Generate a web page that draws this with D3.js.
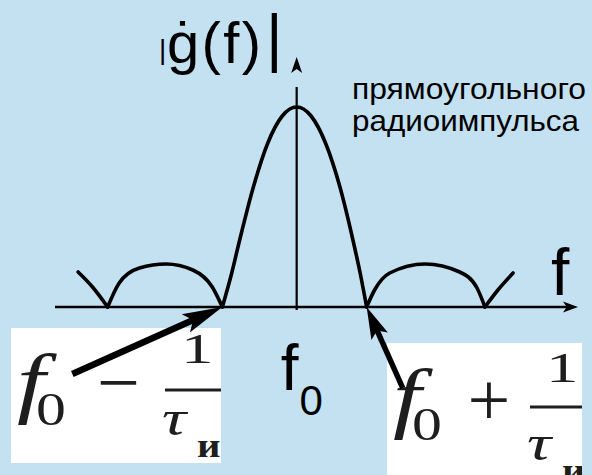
<!DOCTYPE html>
<html>
<head>
<meta charset="utf-8">
<script src="https://cdn.jsdelivr.net/npm/d3@7"></script>
<style>
  body { margin: 0; background: #c3e1f1; }
  svg { display: block; }
</style>
</head>
<body>
<div id="container"></div>
<script>
/* CONSTANTS AND GLOBALS */
const width = 592
const height = 475

// f measured from f0, in units of 1/tau ; amplitude relative to the peak
const leftTail  = [[-3.03, 0.175], [-2.83, 0.1], [-2.62, 0]]
const leftLobe  = [[-2.62, 0], [-2.46, 0.12], [-2.18, 0.195], [-1.81, 0.215], [-1.44, 0.185], [-1.17, 0.1], [-1.03, 0]]
const mainLobe  = [[-1.03, 0], [-0.9, 0.17], [-0.79, 0.335], [-0.6, 0.6], [-0.4, 0.82], [-0.2, 0.955], [0, 1],
                   [0.2, 0.955], [0.4, 0.82], [0.6, 0.6], [0.78, 0.335], [0.88, 0.17], [0.97, 0]]
const rightLobe = [[0.97, 0], [1.08, 0.085], [1.29, 0.17], [1.78, 0.215], [2.26, 0.175], [2.5, 0.095], [2.61, 0]]
const rightTail = [[2.61, 0], [2.79, 0.085], [3.0, 0.17]]

const zeros = [-1.03, 0.97]            // f0 - 1/tau , f0 + 1/tau
const axisLabelY = "ġ(f)"
const axisLabelX = "f"
const captionLines = ["прямоугольного", "радиоимпульса"]

// CREATE SVG ELEMENT
const svg = d3.select("#container")
  .append("svg")
    .attr("width", width)
    .attr("height", height)

svg.append("rect").attr("width", width).attr("height", height).attr("fill", "#c3e1f1")

// SCALES
const xScale = d3.scaleLinear().domain([-3.35, 3.9]).range([55, 578])
const yScale = d3.scaleLinear().domain([0, 1]).range([307, 107])

// AXES (plain arrows, no ticks)
svg.append("line")
  .attr("x1", xScale(-3.35)).attr("x2", xScale(3.75))
  .attr("y1", yScale(0)).attr("y2", yScale(0))
  .attr("stroke", "#000").attr("stroke-width", 2.5)

svg.append("line")
  .attr("x1", xScale(0)).attr("x2", xScale(0))
  .attr("y1", yScale(-0.015)).attr("y2", yScale(1.1))
  .attr("stroke", "#000").attr("stroke-width", 2.2)

function arrowHead(tip, back, len, half, notch) {
  const dx = tip[0] - back[0], dy = tip[1] - back[1]
  const d = Math.hypot(dx, dy), ux = dx / d, uy = dy / d
  const bx = tip[0] - ux * len, by = tip[1] - uy * len
  const nx = tip[0] - ux * len * notch, ny = tip[1] - uy * len * notch
  return [tip, [bx - uy * half, by + ux * half], [nx, ny], [bx + uy * half, by - ux * half]]
}

const xTip = [xScale(3.9), yScale(0)]
svg.append("path")
  .attr("d", d3.line()(arrowHead(xTip, [0, yScale(0)], 15, 5.5, 0.75)) + "Z")
  .attr("fill", "#000")

const yTip = [xScale(0), yScale(1.25)]
svg.append("path")
  .attr("d", d3.line()(arrowHead(yTip, [xScale(0), 400], 16, 5.5, 0.75)) + "Z")
  .attr("fill", "#000")

// SPECTRUM CURVE
const line = d3.line()
  .x(d => xScale(d[0]))
  .y(d => yScale(d[1]))
  .curve(d3.curveMonotoneX)

svg.selectAll(".lobe")
  .data([leftTail, leftLobe, mainLobe, rightLobe, rightTail])
  .join("path")
    .attr("class", "lobe")
    .attr("d", line)
    .attr("fill", "none")
    .attr("stroke", "#000")
    .attr("stroke-width", 3.6)
    .attr("stroke-linecap", "round")

// LABELS
svg.append("text")
  .attr("x", 159).attr("y", 59)
  .attr("font-family", "Liberation Sans, Arial").attr("font-size", 28)
  .text("|")
svg.append("text")
  .attr("x", 167).attr("y", 63)
  .attr("font-family", "Liberation Sans, Arial").attr("font-size", 58)
  .attr("textLength", 94).attr("lengthAdjust", "spacing")
  .text(axisLabelY)
svg.append("text")
  .attr("x", 266).attr("y", 60)
  .attr("font-family", "Liberation Sans, Arial").attr("font-size", 64)
  .text("|")

svg.append("text")
  .attr("x", 551).attr("y", 295)
  .attr("font-family", "Liberation Sans, Arial").attr("font-size", 66)
  .text(axisLabelX)

svg.selectAll(".caption")
  .data(captionLines)
  .join("text")
    .attr("class", "caption")
    .attr("x", 352)
    .attr("y", (d, i) => 99 + i * 32)
    .attr("font-family", "Liberation Sans, Arial")
    .attr("font-size", 29)
    .attr("textLength", (d, i) => i === 0 ? 234 : 227)
    .attr("lengthAdjust", "spacingAndGlyphs")
    .text(d => d)

const f0 = svg.append("text")
  .attr("x", xScale(0) - 16).attr("y", 390)
  .attr("font-family", "Liberation Sans, Arial").attr("font-size", 64)
f0.append("tspan").text("f")
f0.append("tspan").attr("font-size", 42).attr("dx", 1).attr("dy", 25).text("0")

// FORMULA BOXES
function formula(id, x, y, w, h, sign, dx, dNum, dDen) {
  const g = svg.append("g")
  g.append("rect").attr("x", x).attr("y", y).attr("width", w).attr("height", h).attr("fill", "#fff")
  g.append("clipPath").attr("id", id)
    .append("rect").attr("x", 0).attr("y", 0).attr("width", w).attr("height", h)
  const t = g.append("g")
    .attr("transform", `translate(${x},${y})`)
    .append("g")
    .attr("clip-path", `url(#${id})`)
    .attr("fill", "#1e1e1e")
    .attr("font-family", "Liberation Serif, Times New Roman")
  t.append("text").attr("font-size", 78).attr("font-style", "italic")
    .attr("transform", "translate(6,80) scale(1.3,1)").text("f")
  t.append("text").attr("font-size", 46)
    .attr("transform", "translate(25,97) scale(1.3,1)").text("0")
  t.append("text").attr("x", 86 + dx / 2).attr("y", 80 + dNum).attr("font-size", 76).text(sign)
  t.append("line").attr("x1", 154 + dx).attr("x2", 240).attr("y1", 62 + dNum).attr("y2", 62 + dNum)
    .attr("stroke", "#1e1e1e").attr("stroke-width", 3)
  t.append("text").attr("font-size", 42)
    .attr("transform", `translate(${170 + dx},${35 + dNum * 2}) scale(1.55,1)`).text("1")
  t.append("text").attr("font-size", 50).attr("font-style", "italic")
    .attr("transform", `translate(${151 + dx},${107 + dDen}) scale(1.35,1)`).text("τ")
  t.append("text").attr("font-size", 34).attr("font-weight", "bold")
    .attr("transform", `translate(${186 + dx},${129 + dDen}) scale(1.2,1)`).text("и")
}
formula("clipMinus", 11, 328, 210, 135, "−", 0, 0, 0)
formula("clipPlus", 387, 343, 195, 132, "+", -11, 2, 10)

// ARROWS TO THE FIRST ZEROS
function pointer(tail, fz, w, len, half) {
  const tip = [xScale(fz), yScale(0)]
  const tl = [xScale(tail[0]), yScale(tail[1])]
  const head = arrowHead(tip, tl, len, half, 0.8)
  svg.append("line")
    .attr("x1", tl[0]).attr("y1", tl[1]).attr("x2", head[2][0]).attr("y2", head[2][1])
    .attr("stroke", "#000").attr("stroke-width", w)
  svg.append("path").attr("d", d3.line()(head) + "Z").attr("fill", "#000")
}
pointer([-3.11, -0.335], zeros[0], 6.5, 40, 10)
pointer([1.47, -0.405], zeros[1], 5.5, 32, 9)
</script>
</body>
</html>
